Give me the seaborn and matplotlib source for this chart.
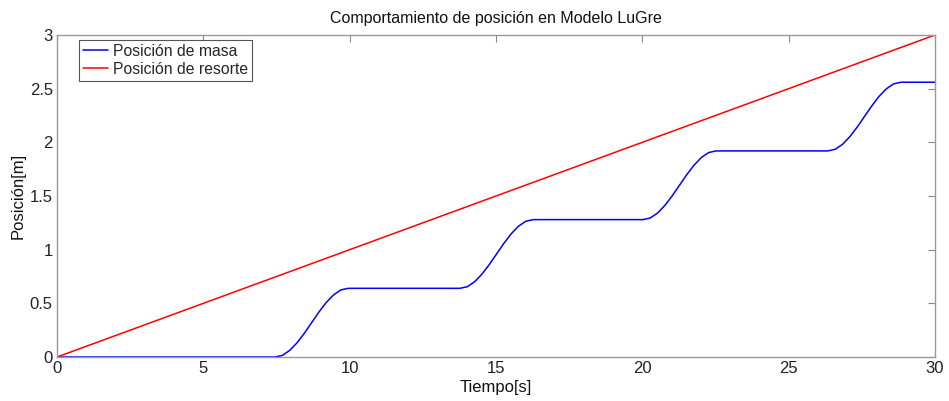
import matplotlib
matplotlib.use("Agg")
import matplotlib.pyplot as plt
import seaborn as sns
import pandas as pd

# Posición del resorte (rampa) y de la masa (stick-slip, modelo LuGre)
t_resorte = [0.0, 30.0]
x_resorte = [0.0, 3.0]

t_masa = [0.0, 7.45,
          7.70, 7.95, 8.20, 8.45, 8.70, 8.95, 9.20, 9.45, 9.70, 9.95,
          13.77,
          14.02, 14.27, 14.52, 14.77, 15.02, 15.27, 15.52, 15.77, 16.02, 16.27,
          20.02,
          20.27, 20.52, 20.77, 21.02, 21.27, 21.52, 21.77, 22.02, 22.27, 22.52,
          26.34,
          26.59, 26.84, 27.09, 27.34, 27.59, 27.84, 28.09, 28.34, 28.59, 28.84,
          30.0]
x_masa = [0.0, 0.0,
          0.015, 0.061, 0.132, 0.221, 0.320, 0.419, 0.508, 0.579, 0.625, 0.640,
          0.640,
          0.655, 0.701, 0.772, 0.861, 0.960, 1.059, 1.148, 1.219, 1.265, 1.280,
          1.280,
          1.295, 1.341, 1.412, 1.501, 1.600, 1.699, 1.788, 1.859, 1.905, 1.920,
          1.920,
          1.935, 1.981, 2.052, 2.141, 2.240, 2.339, 2.428, 2.499, 2.545, 2.560,
          2.560]

x_ticks = [0, 5, 10, 15, 20, 25, 30]
y_ticks = [0, 0.5, 1, 1.5, 2, 2.5, 3]
y_ticklabels = ["0", "0.5", "1", "1.5", "2", "2.5", "3"]

sns.set_style("white")
plt.rcParams["font.family"] = ["Liberation Sans", "DejaVu Sans"]
plt.rcParams["font.size"] = 12

df_masa = pd.DataFrame({"t": t_masa, "x": x_masa})
df_resorte = pd.DataFrame({"t": t_resorte, "x": x_resorte})

fig = plt.figure(figsize=(9.49, 4.01), dpi=100)
ax = fig.add_axes([0.0601, 0.1097, 0.9251, 0.8030])

sns.lineplot(data=df_masa, x="t", y="x", ax=ax, color="#0000ff", lw=1.1,
             label="Posición de masa", estimator=None, sort=False)
sns.lineplot(data=df_resorte, x="t", y="x", ax=ax, color="#ff0000", lw=1.1,
             label="Posición de resorte", estimator=None, sort=False)

ax.set_xlim(0, 30)
ax.set_ylim(0, 3)
ax.set_xticks(x_ticks)
ax.set_yticks(y_ticks)
ax.set_yticklabels(y_ticklabels)

for s in ax.spines.values():
    s.set_color("#999999")
    s.set_linewidth(1.0)
    s.set_visible(True)
ax.tick_params(direction="in", length=5, width=0.8, color="#888888",
               top=True, right=True, labelsize=12, labelcolor="#222222", pad=3)

ax.set_title("Comportamiento de posición en Modelo LuGre", fontsize=11.5,
             color="#111111", pad=9)
ax.set_xlabel("Tiempo[s]", fontsize=12, color="#111111", labelpad=3)
ax.set_ylabel("Posición[m]", fontsize=12, color="#111111", labelpad=3)

leg = ax.legend(loc="upper left", bbox_to_anchor=(0.025, 0.985), borderaxespad=0,
                fancybox=False, framealpha=1, edgecolor="#555555",
                handlelength=1.6, handletextpad=0.3, borderpad=0.25,
                labelspacing=0.2, fontsize=11.3)
leg.get_frame().set_linewidth(0.8)

fig.savefig("out.png", dpi=100)
